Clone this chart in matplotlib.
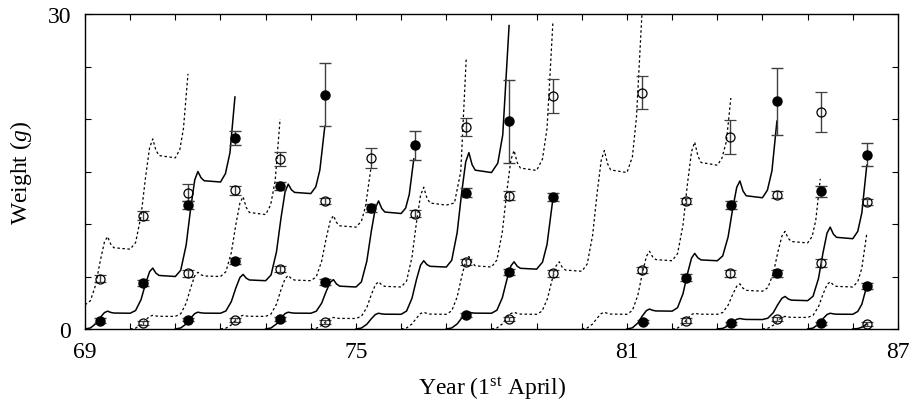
import matplotlib
matplotlib.use("Agg")
import matplotlib.pyplot as plt

plt.rcParams['font.family'] = 'Liberation Serif'
plt.rcParams['mathtext.fontset'] = 'custom'
plt.rcParams['mathtext.rm'] = 'Liberation Serif'
plt.rcParams['mathtext.it'] = 'Liberation Serif:italic'

# model growth curves, one per year-class: (year, weight in g)
c68 = [(69.00, 2.3), (69.12, 2.69), (69.24, 4.25), (69.34, 6.53), (69.43, 8.28), (69.50, 8.8),
       (69.57, 8.08), (69.64, 7.74), (70.00, 7.6), (70.12, 8.23), (70.24, 10.75), (70.34, 14.43),
       (70.43, 17.26), (70.50, 18.1), (70.57, 17.02), (70.64, 16.52), (71.00, 16.3),
       (71.10, 17.1), (71.18, 19.1), (71.28, 24.3)]
c69 = [(69.00, 0.0), (69.12, 0.10), (69.24, 0.51), (69.34, 1.11), (69.43, 1.56), (69.50, 1.7),
       (69.57, 1.58), (69.64, 1.52), (70.00, 1.5), (70.12, 1.76), (70.24, 2.79), (70.34, 4.30),
       (70.43, 5.46), (70.50, 5.8), (70.57, 5.32), (70.64, 5.10), (71.00, 5.0), (71.12, 5.6),
       (71.24, 8.0), (71.34, 11.5), (71.43, 14.2), (71.50, 15.0), (71.57, 14.4), (71.64, 14.12),
       (72.00, 14.0), (72.11, 14.8), (72.21, 16.8), (72.32, 22.1)]
c70 = [(70.00, 0.0), (70.12, 0.08), (70.24, 0.39), (70.34, 0.85), (70.43, 1.20), (70.50, 1.3),
       (70.57, 1.24), (70.64, 1.21), (71.00, 1.2), (71.12, 1.45), (71.24, 2.46), (71.34, 3.93),
       (71.43, 5.06), (71.50, 5.4), (71.57, 5.16), (71.64, 5.05), (72.00, 5.0), (72.12, 5.46),
       (72.24, 7.28), (72.34, 9.94), (72.43, 11.99), (72.50, 12.6), (72.57, 11.58), (72.64, 11.10),
       (73.00, 10.9), (73.11, 11.81), (73.21, 14.09), (73.32, 20.0)]
c71 = [(71.00, 0.0), (71.12, 0.10), (71.24, 0.48), (71.34, 1.04), (71.43, 1.47), (71.50, 1.6),
       (71.57, 1.54), (71.64, 1.51), (72.00, 1.5), (72.12, 1.72), (72.24, 2.61), (72.34, 3.91),
       (72.43, 4.90), (72.50, 5.2), (72.57, 4.84), (72.64, 4.67), (73.00, 4.6), (73.12, 5.15),
       (73.24, 7.36), (73.34, 10.58), (73.43, 13.06), (73.50, 13.8), (73.57, 13.26), (73.64, 13.01),
       (74.00, 12.9), (74.11, 13.54), (74.20, 15.14), (74.31, 19.3)]
c72 = [(72.00, 0.0), (72.12, 0.08), (72.24, 0.39), (72.34, 0.85), (72.43, 1.20), (72.50, 1.3),
       (72.57, 1.24), (72.64, 1.21), (73.00, 1.2), (73.12, 1.43), (73.24, 2.37), (73.34, 3.74),
       (73.43, 4.79), (73.50, 5.1), (73.57, 4.80), (73.64, 4.66), (74.00, 4.6), (74.12, 4.97),
       (74.24, 6.46), (74.34, 8.63), (74.43, 10.30), (74.50, 10.8), (74.57, 10.14), (74.64, 9.83),
       (75.00, 9.7), (75.12, 10.26), (75.21, 11.66), (75.33, 15.3)]
c73 = [(73.00, 0.0), (73.12, 0.10), (73.24, 0.48), (73.34, 1.04), (73.43, 1.47), (73.50, 1.6),
       (73.57, 1.54), (73.64, 1.51), (74.00, 1.5), (74.12, 1.69), (74.24, 2.46), (74.34, 3.58),
       (74.43, 4.44), (74.50, 4.7), (74.57, 4.28), (74.64, 4.08), (75.00, 4.0), (75.12, 4.49),
       (75.24, 6.46), (75.34, 9.33), (75.43, 11.54), (75.50, 12.2), (75.57, 11.48), (75.64, 11.14),
       (76.00, 11.0), (76.10, 11.52), (76.18, 12.82), (76.28, 16.2)]
c74 = [(74.00, 0.0), (74.12, 0.07), (74.24, 0.33), (74.34, 0.72), (74.43, 1.01), (74.50, 1.1),
       (74.57, 1.04), (74.64, 1.01), (75.00, 1.0), (75.12, 1.21), (75.24, 2.05), (75.34, 3.28),
       (75.43, 4.22), (75.50, 4.5), (75.57, 4.20), (75.64, 4.06), (76.00, 4.0), (76.12, 4.57),
       (76.24, 6.85), (76.34, 10.18), (76.43, 12.74), (76.50, 13.5), (76.57, 12.48), (76.64, 12.00),
       (77.00, 11.8), (77.18, 12.0), (77.32, 15.0), (77.44, 25.7)]
c75 = [(75.00, 0.0), (75.12, 0.09), (75.24, 0.45), (75.34, 0.98), (75.43, 1.38), (75.50, 1.5),
       (75.57, 1.44), (75.64, 1.41), (76.00, 1.4), (76.12, 1.71), (76.24, 2.93), (76.34, 4.72),
       (76.43, 6.09), (76.50, 6.5), (76.57, 6.14), (76.64, 5.97), (77.00, 5.9), (77.12, 6.55),
       (77.24, 9.17), (77.34, 12.99), (77.43, 15.93), (77.50, 16.8), (77.57, 15.66), (77.64, 15.13),
       (78.00, 14.9), (78.14, 15.8), (78.25, 18.5), (78.39, 28.9)]
c76 = [(76.00, 0.0), (76.12, 0.10), (76.24, 0.48), (76.34, 1.04), (76.43, 1.47), (76.50, 1.6),
       (76.57, 1.48), (76.64, 1.42), (77.00, 1.4), (77.12, 1.73), (77.24, 3.05), (77.34, 4.98),
       (77.43, 6.46), (77.50, 6.9), (77.57, 6.3), (77.64, 6.02), (78.00, 5.9), (78.12, 6.57),
       (78.24, 9.23), (78.34, 13.12), (78.43, 16.11), (78.50, 17.0), (78.57, 15.86), (78.64, 15.33),
       (79.00, 15.1), (79.13, 16.2), (79.23, 19.1), (79.36, 29.2)]
c77 = [(77.00, 0.0), (77.12, 0.10), (77.24, 0.48), (77.34, 1.04), (77.43, 1.47), (77.50, 1.6),
       (77.57, 1.54), (77.64, 1.51), (78.00, 1.5), (78.12, 1.79), (78.24, 2.97), (78.34, 4.69),
       (78.43, 6.01), (78.50, 6.4), (78.57, 5.98), (78.64, 5.78), (79.00, 5.7), (79.13, 6.37),
       (79.23, 8.05), (79.36, 12.4)]
c78 = [(78.00, 0.0), (78.12, 0.10), (78.24, 0.48), (78.34, 1.04), (78.43, 1.47), (78.50, 1.6),
       (78.57, 1.48), (78.64, 1.42), (79.00, 1.4), (79.12, 1.70), (79.24, 2.90), (79.34, 4.65),
       (79.43, 6.00), (79.50, 6.4), (79.57, 5.86), (79.64, 5.61), (80.00, 5.5), (80.12, 6.19),
       (80.24, 8.95), (80.34, 12.98), (80.43, 16.08), (80.50, 17.0), (80.57, 15.74), (80.64, 15.15),
       (81.00, 14.9), (81.12, 16.4), (81.21, 20.15), (81.33, 29.9)]
c80 = [(80.00, 0.0), (80.12, 0.10), (80.24, 0.48), (80.34, 1.04), (80.43, 1.47), (80.50, 1.6),
       (80.57, 1.48), (80.64, 1.42), (81.00, 1.4), (81.12, 1.76), (81.24, 3.20), (81.34, 5.30),
       (81.43, 6.92), (81.50, 7.4), (81.57, 6.86), (81.64, 6.61), (82.00, 6.5), (82.12, 7.18),
       (82.24, 9.89), (82.34, 13.85), (82.43, 16.9), (82.50, 17.8), (82.57, 16.48), (82.64, 15.86),
       (83.00, 15.6), (83.10, 16.24), (83.20, 17.84), (83.30, 22.0)]
c81 = [(81.00, 0.0), (81.12, 0.11), (81.24, 0.57), (81.34, 1.24), (81.43, 1.75), (81.50, 1.9),
       (81.57, 1.78), (81.64, 1.72), (82.00, 1.7), (82.12, 2.03), (82.24, 3.35), (82.34, 5.28),
       (82.43, 6.76), (82.50, 7.2), (82.57, 6.78), (82.64, 6.58), (83.00, 6.5), (83.12, 6.96),
       (83.24, 8.78), (83.34, 11.44), (83.43, 13.49), (83.50, 14.1), (83.57, 13.14), (83.64, 12.69),
       (84.00, 12.5), (84.11, 13.23), (84.21, 15.06), (84.32, 19.8)]
c82 = [(82.00, 0.0), (82.12, 0.09), (82.24, 0.45), (82.34, 0.98), (82.43, 1.38), (82.50, 1.5),
       (82.57, 1.44), (82.64, 1.41), (83.00, 1.4), (83.12, 1.57), (83.24, 2.27), (83.34, 3.29),
       (83.43, 4.07), (83.50, 4.3), (83.57, 3.88), (83.64, 3.68), (84.00, 3.6), (84.12, 3.94),
       (84.24, 5.31), (84.34, 7.31), (84.43, 8.84), (84.50, 9.3), (84.57, 8.64), (84.64, 8.33),
       (85.00, 8.2), (85.10, 8.81), (85.18, 10.34), (85.28, 14.3)]
c83 = [(83.00, 0.0), (83.12, 0.06), (83.24, 0.30), (83.34, 0.65), (83.43, 0.92), (83.50, 1.0),
       (83.57, 0.94), (83.64, 0.91), (84.00, 0.9), (84.12, 1.03), (84.24, 1.56), (84.34, 2.33),
       (84.43, 2.92), (84.50, 3.1), (84.57, 2.86), (84.64, 2.75), (85.00, 2.7), (85.12, 3.12),
       (85.24, 4.8), (85.34, 7.25), (85.43, 9.14), (85.50, 9.7), (85.57, 9.04), (85.64, 8.73),
       (86.00, 8.6), (86.11, 9.3), (86.20, 11.05), (86.31, 15.6)]
c84 = [(84.00, 0.0), (84.12, 0.07), (84.24, 0.36), (84.34, 0.78), (84.43, 1.10), (84.50, 1.2),
       (84.57, 1.14), (84.64, 1.11), (85.00, 1.1), (85.12, 1.30), (85.24, 2.12), (85.34, 3.31),
       (85.43, 4.23), (85.50, 4.5), (85.57, 4.2), (85.64, 4.06), (86.00, 4.0), (86.11, 4.51),
       (86.20, 5.79), (86.31, 9.1)]
c85 = [(85.00, 0.0), (85.12, 0.09), (85.24, 0.45), (85.34, 0.98), (85.43, 1.38), (85.50, 1.5),
       (85.57, 1.44), (85.64, 1.41), (86.00, 1.4), (86.11, 1.67), (86.20, 2.35), (86.31, 4.1)]
c86 = [(86.00, 0.0), (86.12, 0.05), (86.22, 0.2), (86.31, 0.5)]

solid_classes = [c69, c71, c73, c75, c77, c81, c83, c85, c86]
dotted_classes = [c68, c70, c72, c74, c76, c78, c80, c82, c84]

# sample means with standard errors: (year, weight, error)
filled_pts = [(69.33, 0.8, 0.2), (70.28, 4.4, 0.3), (71.28, 11.8, 0.4), (71.28, 0.9, 0.15),
              (72.32, 18.2, 0.7), (72.32, 6.5, 0.3), (73.32, 13.6, 0.4), (73.32, 0.95, 0.15),
              (74.31, 22.3, 3.0), (74.31, 4.5, 0.3), (75.33, 11.5, 0.4), (76.31, 17.5, 1.4),
              (77.44, 13.0, 0.4), (77.44, 1.3, 0.2), (78.39, 19.8, 3.95), (78.39, 5.4, 0.3),
              (79.36, 12.6, 0.4), (81.35, 0.7, 0.15), (82.30, 4.9, 0.3), (83.30, 11.8, 0.4),
              (83.30, 0.55, 0.15), (84.32, 21.7, 3.2), (84.32, 5.3, 0.3), (85.30, 13.1, 0.5),
              (85.30, 0.55, 0.15), (86.31, 16.6, 1.1), (86.31, 4.1, 0.3)]
open_pts = [(69.33, 4.8, 0.3), (70.28, 10.8, 0.4), (70.28, 0.55, 0.2), (71.28, 13.0, 0.85),
            (71.28, 5.3, 0.3), (72.32, 13.2, 0.4), (72.32, 0.85, 0.2), (73.32, 16.2, 0.65),
            (73.32, 5.7, 0.3), (74.31, 12.2, 0.3), (74.31, 0.65, 0.2), (75.33, 16.3, 0.95),
            (76.31, 11.0, 0.3), (77.44, 19.2, 0.85), (77.44, 6.4, 0.3), (78.39, 12.7, 0.4),
            (78.39, 0.95, 0.2), (79.36, 22.2, 1.6), (79.36, 5.3, 0.3), (81.33, 22.5, 1.55),
            (81.33, 5.6, 0.3), (82.30, 12.2, 0.3), (82.30, 0.8, 0.2), (83.28, 18.3, 1.6),
            (83.28, 5.3, 0.3), (84.32, 12.8, 0.3), (84.32, 0.95, 0.2), (85.30, 20.7, 1.9),
            (85.30, 6.3, 0.4), (86.31, 12.1, 0.3), (86.31, 0.45, 0.2)]

x_labels = {69: '69', 75: '75', 81: '81', 87: '87'}
y_labels = {0: '0', 30: '30'}

fig = plt.figure(figsize=(9.12, 4.06), dpi=100)
ax = fig.add_axes([0.0932, 0.1872, 0.8914, 0.7758])

for c in solid_classes:
    xs, ys = zip(*c)
    ax.plot(xs, ys, color='k', lw=1.1, ls='-', zorder=2)
for c in dotted_classes:
    xs, ys = zip(*c)
    ax.plot(xs, ys, color='k', lw=0.9, ls=(0, (2, 2)), zorder=2)

fx, fy, fe = zip(*filled_pts)
ax.errorbar(fx, fy, yerr=fe, fmt='o', ms=6.5, mfc='k', mec='k', ecolor='0.25',
            elinewidth=1.0, capsize=4, capthick=1.0, zorder=3)
ox, oy, oe = zip(*open_pts)
ax.errorbar(ox, oy, yerr=oe, fmt='o', ms=6.5, mfc='none', mec='k', mew=0.9,
            ecolor='0.25', elinewidth=1.0, capsize=4, capthick=1.0, zorder=3)

ax.set_xlim(69, 87)
ax.set_ylim(0, 30)
ax.set_xticks(range(69, 88))
ax.set_xticklabels([x_labels.get(v, '') for v in range(69, 88)])
ax.set_yticks(range(0, 31, 5))
ax.set_yticklabels([y_labels.get(v, '') for v in range(0, 31, 5)])
ax.tick_params(axis='both', direction='in', top=True, right=True, length=4, width=0.8,
               labelsize=17)
ax.tick_params(axis='x', pad=9)
ax.tick_params(axis='y', pad=10)
for s in ax.spines.values():
    s.set_linewidth(1.0)

ax.set_xlabel('Year (1$^{\\rm st}$ April)', fontsize=17, labelpad=9)
ax.set_ylabel('Weight ($g$)', fontsize=17, labelpad=10)

fig.savefig('out.png', dpi=100)
